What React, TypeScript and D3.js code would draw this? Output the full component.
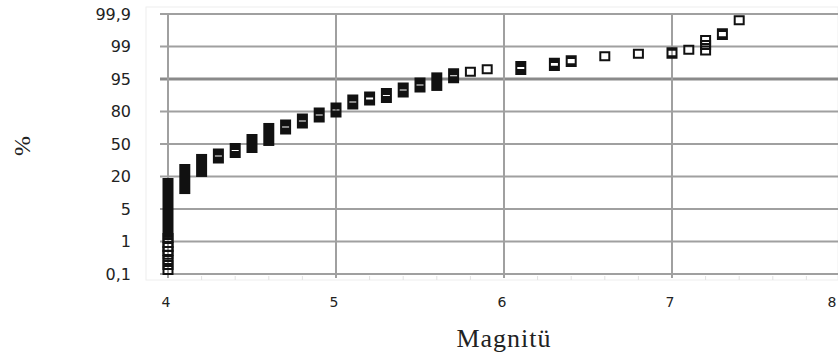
import React from "react";
import * as d3 from "d3";

// probability axis levels (%), drawn evenly spaced
const yLevels = [0.1, 1, 5, 20, 50, 80, 95, 99, 99.9];
const yLabels = ["0,1", "1", "5", "20", "50", "80", "95", "99", "99,9"];
const xTicks = [4, 5, 6, 7, 8];

// one entry per marker stack: magnitude, lowest and highest cumulative %
const magnitude = [
  4.0, 4.0, 4.0, 4.0, 4.0, 4.0, 4.0, 4.0, 4.0,
  4.1, 4.2, 4.3, 4.4, 4.5, 4.6, 4.7, 4.8, 4.9,
  5.0, 5.1, 5.2, 5.3, 5.4, 5.5, 5.6, 5.7, 5.8, 5.9,
  6.1, 6.3, 6.4, 6.6, 6.8, 7.0, 7.1, 7.2, 7.2, 7.2, 7.3, 7.4,
];
const pctLow = [
  2.05, 1.43, 0.96, 0.85, 0.74, 0.63, 0.49, 0.35, 0.21,
  14.2, 24.2, 36.6, 41.7, 46.3, 52.8, 63.4, 68.9, 74.5,
  79.1, 83.2, 85.1, 86.2, 88.8, 91.1, 91.8, 95.1, 95.9, 96.2,
  96.1, 96.6, 97.1, 97.8, 98.1, 98.1, 98.6, 98.5, 99.04, 99.18, 99.32, 99.73,
];
const pctHigh = [
  17.0, 1.43, 0.96, 0.85, 0.74, 0.63, 0.49, 0.35, 0.21,
  26.9, 36.2, 41.2, 46.3, 54.6, 64.8, 68.0, 73.5, 79.1,
  81.8, 85.5, 86.9, 88.5, 91.1, 93.4, 95.2, 95.7, 95.9, 96.2,
  96.6, 97.0, 97.3, 97.8, 98.1, 98.3, 98.6, 98.5, 99.04, 99.18, 99.37, 99.73,
];

const W = 838;
const H = 358;

export default function App() {
  const x = d3.scaleLinear().domain([4, 8]).range([168, 840]);
  const y = d3
    .scaleLinear()
    .domain(yLevels)
    .range(yLevels.map((_, i) => 274 - i * 32.5));

  const minor = d3.range(4, 8.01, 0.2).filter((v) => Math.abs(v - Math.round(v)) > 0.01);

  // a stack of open squares: black outline, white hole only when the stack is short
  const stackPath = (m: number, lo: number, hi: number) => {
    const cx = x(m);
    const yT = y(hi);
    const yB = y(lo);
    let p = `M${cx - 5.5},${yT - 5}H${cx + 5.5}V${yB + 5}H${cx - 5.5}Z`;
    if (yB - yT < 6) {
      p += `M${cx - 3.5},${yB - 3}H${cx + 3.5}V${yT + 3}H${cx - 3.5}Z`;
    }
    return p;
  };

  return (
    <svg
      width={W}
      height={H}
      style={{ position: "absolute", left: 0, top: 0, background: "#fff" }}
    >
      {/* faint plot frame */}
      <rect x={146} y={7} width={W - 146} height={273} fill="none" stroke="#eeeeee" strokeWidth={1} />

      {/* minor ticks */}
      {minor.map((v) => (
        <line key={"mn" + v} x1={x(v)} x2={x(v)} y1={276} y2={280} stroke="#e2e2e2" strokeWidth={1} />
      ))}

      {/* horizontal grid */}
      {yLevels.map((v) => (
        <line
          key={"h" + v}
          x1={160}
          x2={W}
          y1={y(v)}
          y2={y(v)}
          stroke={v === 95 ? "#8a8a8a" : "#a0a0a0"}
          strokeWidth={v === 95 ? 3 : 2}
        />
      ))}

      {/* vertical grid */}
      {xTicks.map((v) => (
        <line key={"v" + v} x1={x(v)} x2={x(v)} y1={y(99.9)} y2={278} stroke="#a0a0a0" strokeWidth={2} />
      ))}

      {/* y tick labels */}
      {yLevels.map((v, i) => (
        <text
          key={"yl" + v}
          x={131}
          y={y(v)}
          dy="0.36em"
          textAnchor="end"
          fontFamily="DejaVu Sans"
          fontSize={16}
          fill="#222"
        >
          {yLabels[i]}
        </text>
      ))}

      {/* x tick labels (last one kept inside the page) */}
      {xTicks.map((v) => (
        <text
          key={"xl" + v}
          x={Math.min(x(v) - 2, W - 6)}
          y={307}
          textAnchor="middle"
          fontFamily="DejaVu Sans"
          fontSize={14}
          fill="#222"
        >
          {v}
        </text>
      ))}

      {/* markers */}
      {magnitude.map((m, i) => (
        <path key={"p" + i} d={stackPath(m, pctLow[i], pctHigh[i])} fill="#111" fillRule="evenodd" />
      ))}

      {/* axis titles */}
      <text
        transform="translate(30,146) rotate(-90)"
        textAnchor="middle"
        fontFamily="Liberation Serif"
        fontSize={24}
        fill="#222"
      >
        %
      </text>
      <text
        x={504}
        y={347}
        textAnchor="middle"
        fontFamily="Liberation Serif"
        fontSize={26}
        letterSpacing={1}
        fill="#222"
      >
        Magnitü
      </text>
    </svg>
  );
}
